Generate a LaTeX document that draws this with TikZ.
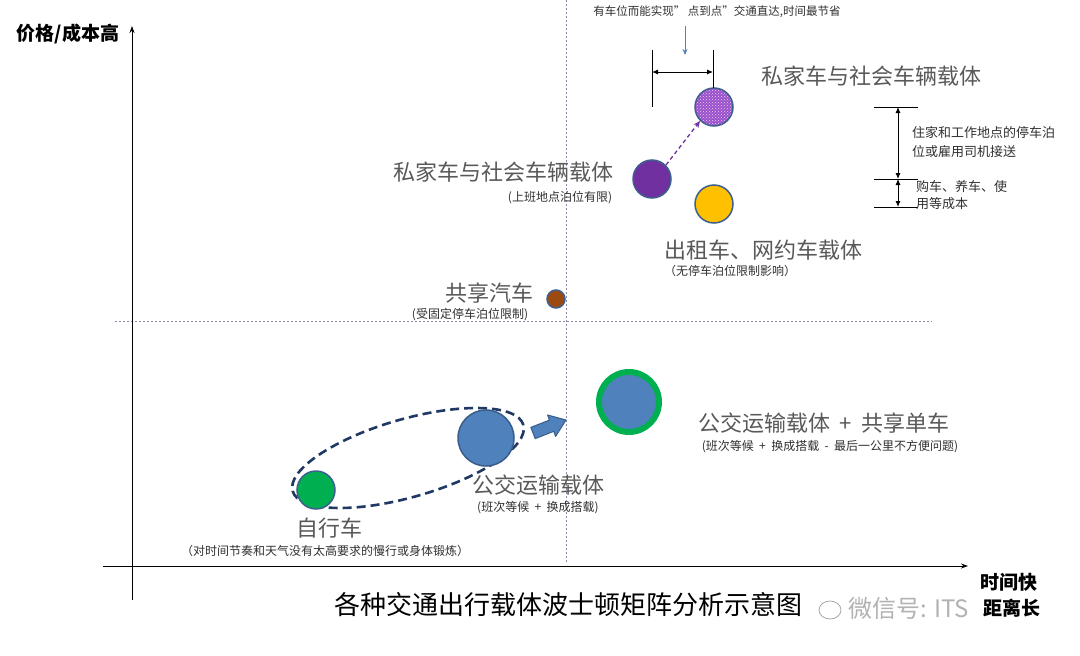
\documentclass[tikz,border=0pt]{standalone}
\usepackage{fontspec}
\setmainfont{Noto Sans CJK SC}
\usetikzlibrary{arrows.meta,shapes.geometric,shapes.arrows,patterns}
\definecolor{lbl}{HTML}{595959}
\definecolor{sub}{HTML}{303030}
\definecolor{rim}{HTML}{3F5F8F}
\definecolor{bluef}{HTML}{4F81BD}
\definecolor{blued}{HTML}{385D8A}
\definecolor{grn}{HTML}{00B050}
\definecolor{purp}{HTML}{7030A0}
\definecolor{purl}{HTML}{9A50CC}
\definecolor{yel}{HTML}{FFC000}
\definecolor{brn}{HTML}{9C4A0F}
\definecolor{navy}{HTML}{1F3864}
\definecolor{dotc}{HTML}{8A8AA8}
\tikzset{
  big/.style={text=lbl,font=\fontsize{22}{26}\selectfont,inner sep=0},
  small/.style={text=sub,font=\fontsize{12}{15}\selectfont,inner sep=0},
  ball/.style={circle,inner sep=0,draw=rim,line width=1.5pt},
  axis/.style={line width=1pt,-{Stealth[length=7pt,width=5pt]}},
  guide/.style={dotc,line width=1pt,dash pattern=on 2pt off 2pt},
  dim/.style={line width=0.9pt,{Latex[length=6pt,width=5pt]}-{Latex[length=6pt,width=5pt]}},
}
\begin{document}
\begin{tikzpicture}[x=1pt,y=-1pt]
\useasboundingbox[fill=white] (0,0) rectangle (1080,656);
% guides
\coordinate (vt) at (566,0); \coordinate (vb) at (566,562);
\coordinate (hl) at (115,321); \coordinate (hr) at (932,321);
\draw[guide] (vt) -- (vb);
\draw[guide] (hl) -- (hr);
% axes
\coordinate (yb) at (132,600); \coordinate (yt) at (132,26);
\coordinate (xl) at (103,566); \coordinate (xr) at (968,566);
\draw[axis] (yb) -- (yt);
\draw[axis] (xl) -- (xr);
\node[font=\fontsize{19}{22}\selectfont\bfseries,inner sep=0] (ylab) at (68,34) {价格/成本高};
\node[font=\fontsize{19}{22}\selectfont\bfseries,inner sep=0] (xlab1) at (1009,582) {时间快};
\node[font=\fontsize{19}{22}\selectfont\bfseries,inner sep=0] (xlab2) at (1012,608) {距离长};
\node[font=\fontsize{26}{30}\selectfont,inner sep=0] (title) at (568,605) {各种交通出行载体波士顿矩阵分析示意图};
% watermark
\node[text=black!30,font=\fontsize{24}{28}\selectfont,inner sep=0,anchor=west] (wm) at (848,608) {微信号: ITS};
\node[draw=black!35,ellipse,minimum width=22,minimum height=18,inner sep=0,line width=0.8pt] (wl) at (830,610) {};
% top annotation
\node[text=sub,font=\fontsize{11.5}{14}\selectfont,inner sep=0] (topt) at (717,12) {有车位而能实现”\ 点到点”交通直达,时间最节省};
\coordinate (ba1) at (685,26); \coordinate (ba2) at (685,55);
\draw[bluef,line width=1pt,-{Stealth[length=6pt,width=5pt]}] (ba1) -- (ba2);
% purple circles
\node[ball,minimum size=38,pattern=crosshatch dots,pattern color=white!75!purl,preaction={fill=purl}] (p2) at (714,107) {};
\node[ball,minimum size=38,fill=purp] (p1) at (652,179) {};
\node[ball,minimum size=38,fill=yel] (yc) at (714,204) {};
\draw[purp,line width=1.3pt,dash pattern=on 4pt off 3pt,-{Stealth[length=7pt,width=6pt]}] (p1.north east) -- (p2.south west);
% dimension above p2
\coordinate (d1t) at (652,50); \coordinate (d1b) at (652,107);
\coordinate (d2t) at (713,50); \coordinate (d2b) at (713,88);
\coordinate (da) at (652,72); \coordinate (db) at (713,72);
\draw[line width=0.9pt] (d1t) -- (d1b);
\draw[line width=0.9pt] (d2t) -- (d2b);
\draw[dim] (da) -- (db);
% right dimension
\coordinate (r1a) at (874,107); \coordinate (r1b) at (918,107);
\coordinate (r2a) at (874,179); \coordinate (r2b) at (918,179);
\coordinate (r3a) at (874,207); \coordinate (r3b) at (918,207);
\coordinate (v1) at (898,107); \coordinate (v2) at (898,179); \coordinate (v3) at (898,207);
\draw[line width=0.9pt] (r1a) -- (r1b);
\draw[line width=0.9pt] (r2a) -- (r2b);
\draw[line width=0.9pt] (r3a) -- (r3b);
\draw[dim] (v1) -- (v2);
\draw[dim] (v2) -- (v3);
\node[text=sub,font=\fontsize{13}{19}\selectfont,inner sep=0,anchor=north west,align=left] (rt1) at (912,126) {住家和工作地点的停车泊\\位或雇用司机接送};
\node[text=sub,font=\fontsize{13}{17}\selectfont,inner sep=0,anchor=north west,align=left] (rt2) at (916,180) {购车、养车、使\\用等成本};
% labels top
\node[big] (l1) at (871,76) {私家车与社会车辆载体};
\node[big] (l2) at (503,172) {私家车与社会车辆载体};
\node[small] (s2) at (560,198) {(上班地点泊位有限)};
\node[big] (l3) at (763,250) {出租车、网约车载体};
\node[small] (s3) at (730,271) {（无停车泊位限制影响）};
% shared car
\node[ball,minimum size=18,fill=brn] (bc) at (556,299) {};
\node[big] (l4) at (489,293) {共享汽车};
\node[small] (s4) at (470,315) {(受固定停车泊位限制)};
% bus + bike
\node[circle,inner sep=0,minimum size=60,fill=bluef,draw=grn,line width=6pt] (gb) at (629,402) {};
\node[big] (l5) at (824,423) {公交运输载体\ \ +\ \ 共享单车};
\node[small] (s5) at (830,447) {(班次等候\ \ +\ \ 换成搭载\ \ -\ \ 最后一公里不方便问题)};
% ellipse and bus
\node[ellipse,draw=navy,line width=2.6pt,dash pattern=on 9pt off 5pt,minimum width=240,minimum height=78,inner sep=0,rotate=16] (el) at (408,458) {};
\node[circle,inner sep=0,minimum size=56,fill=bluef,draw=blued,line width=1.5pt] (bus) at (486,438) {};
% block arrow
\coordinate (aA) at (535.2,438.6); \coordinate (aB) at (530.8,427.4);
\coordinate (aC) at (549.4,420.1); \coordinate (aD) at (547.6,415.0);
\coordinate (aT) at (566,420.0);
\coordinate (aE) at (555.6,436.4); \coordinate (aF) at (553.8,431.3);
\draw[fill=bluef,draw=blued,line width=1pt,line join=round] (aA) -- (aB) -- (aC) -- (aD) -- (aT) -- (aE) -- (aF) -- cycle;
\node[ball,minimum size=38,fill=grn] (bike) at (316,490) {};
\node[big] (l6) at (538,485) {公交运输载体};
\node[small] (s6) at (538,508) {(班次等候\ \ +\ \ 换成搭载)};
\node[big] (l7) at (329,528) {自行车};
\node[small] (s7) at (325,551) {（对时间节奏和天气没有太高要求的慢行或身体锻炼）};
\end{tikzpicture}
\end{document}
